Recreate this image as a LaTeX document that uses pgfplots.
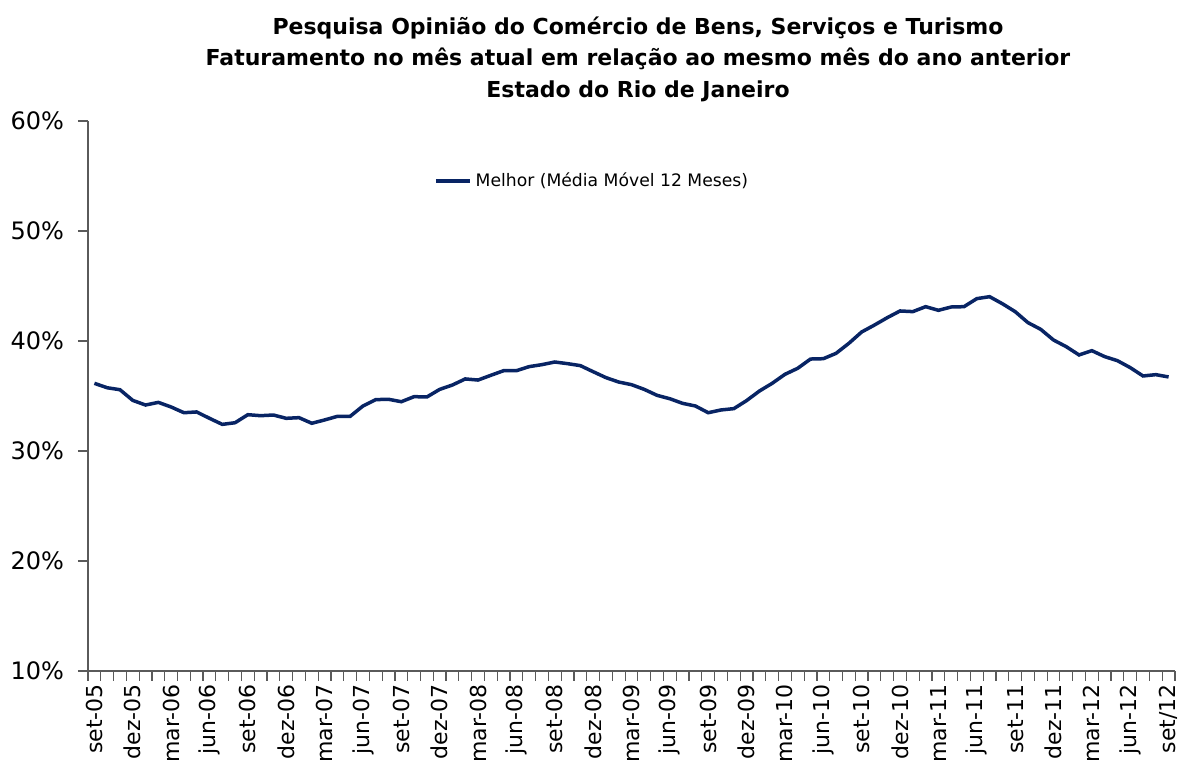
\documentclass[border=0pt]{standalone}
\usepackage{pgfplots}
\pgfplotsset{compat=1.18}
\usepackage{fontspec}
\setmainfont{DejaVu Sans}
\definecolor{navy}{RGB}{8,36,100}
\definecolor{axisgray}{RGB}{90,90,90}
\begin{document}
\begin{tikzpicture}
\useasboundingbox (-44pt,-46pt) rectangle (548.5pt,335.5pt);
\begin{axis}[
  at={(0,0)}, anchor=south west,
  scale only axis,
  width=543.5pt, height=275pt,
  xmin=-0.5, xmax=84.5,
  ymin=10, ymax=60,
  axis x line=bottom, axis y line=left,
  axis line style={-, axisgray, line width=0.6pt},
  tick align=outside,
  xtick={0,3,...,84},
  xticklabels={set-05,dez-05,mar-06,jun-06,set-06,dez-06,mar-07,jun-07,set-07,dez-07,mar-08,jun-08,set-08,dez-08,mar-09,jun-09,set-09,dez-09,mar-10,jun-10,set-10,dez-10,mar-11,jun-11,set-11,dez-11,mar-12,jun-12,set/12},
  minor xtick={-0.5,0.5,...,84.5},
  major x tick style={draw=none},
  minor x tick style={draw=axisgray, line width=0.6pt},
  minor tick length=5pt,
  major tick length=5pt,
  major y tick style={draw=axisgray, line width=0.6pt},
  xticklabel style={rotate=90, anchor=east, font=\fontsize{11}{13}\selectfont, inner sep=1.5pt},
  ytick={10,20,30,40,50,60},
  yticklabels={10\%,20\%,30\%,40\%,50\%,60\%},
  yticklabel style={font=\fontsize{12}{14}\selectfont, xshift=-3.5pt},
  title={Pesquisa Opinião do Comércio de Bens, Serviços e Turismo\\Faturamento no mês atual em relação ao mesmo mês do ano anterior\\Estado do Rio de Janeiro},
  title style={at={(0.506,1)}, anchor=south, yshift=3.5pt, inner sep=0pt, align=center, font=\bfseries\fontsize{11}{15.75}\selectfont},
  legend style={draw=none, fill=none, at={(0.318,0.891)}, anchor=west, inner sep=0pt, font=\fontsize{8.6}{10}\selectfont},
  legend cell align=left,
  clip=false,
]
\addplot[navy, line width=1.75pt] table[x=i, y=v] {
i v
0 36.15
1 35.75
2 35.57
3 34.6
4 34.18
5 34.42
6 34.0
7 33.48
8 33.55
9 32.97
10 32.42
11 32.57
12 33.3
13 33.21
14 33.27
15 32.97
16 33.03
17 32.52
18 32.82
19 33.15
20 33.15
21 34.09
22 34.67
23 34.7
24 34.48
25 34.94
26 34.91
27 35.6
28 36.0
29 36.55
30 36.45
31 36.88
32 37.3
33 37.3
34 37.67
35 37.85
36 38.09
37 37.94
38 37.76
39 37.21
40 36.67
41 36.27
42 36.03
43 35.6
44 35.06
45 34.75
46 34.33
47 34.09
48 33.48
49 33.73
50 33.85
51 34.58
52 35.45
53 36.15
54 36.97
55 37.52
56 38.36
57 38.39
58 38.88
59 39.79
60 40.82
61 41.45
62 42.12
63 42.73
64 42.67
65 43.12
66 42.79
67 43.09
68 43.12
69 43.85
70 44.03
71 43.39
72 42.67
73 41.67
74 41.06
75 40.09
76 39.48
77 38.73
78 39.12
79 38.58
80 38.21
81 37.58
82 36.82
83 36.94
84 36.73
};
\addlegendentry{Melhor (Média Móvel 12 Meses)}
\end{axis}
\end{tikzpicture}
\end{document}
